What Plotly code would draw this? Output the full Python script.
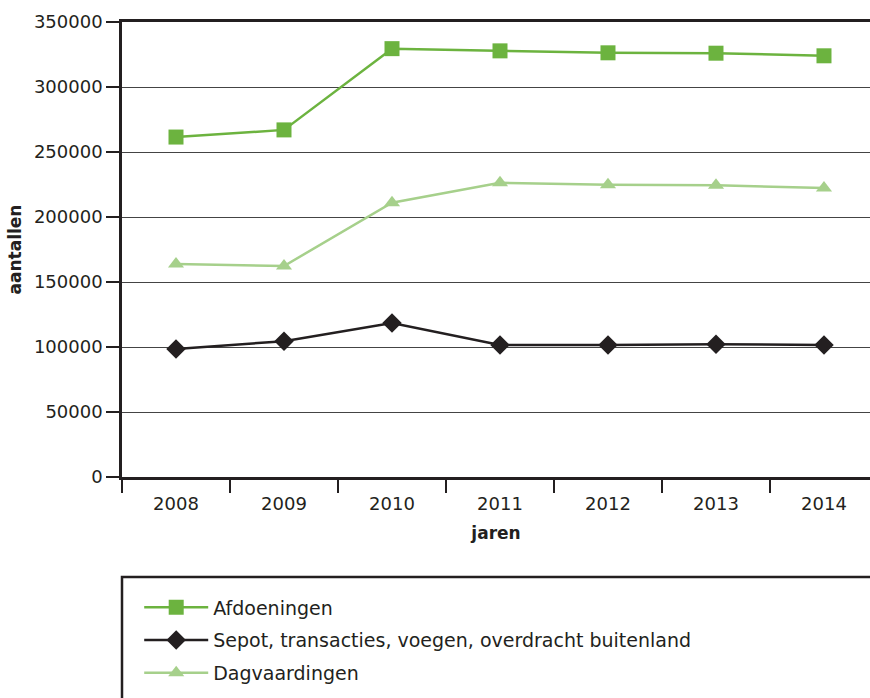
import plotly.graph_objects as go

years = ["2008", "2009", "2010", "2011", "2012", "2013", "2014"]
afdoeningen = [261500, 267000, 329500, 327800, 326300, 326000, 324000]
sepot = [98500, 104500, 118500, 101500, 101600, 102200, 101500]
dagvaardingen = [163800, 162300, 211000, 226300, 224800, 224400, 222300]
y_ticks = [0, 50000, 100000, 150000, 200000, 250000, 300000, 350000]

FONT = "DejaVu Sans, Verdana, sans-serif"
DARK = "#231f20"

fig = go.Figure()
fig.add_trace(go.Scatter(
    x=years, y=afdoeningen, name="Afdoeningen", mode="lines+markers",
    line=dict(color="#6cb33f", width=2.5),
    marker=dict(symbol="square", size=15, color="#6cb33f"),
    legendgroup="a"))
fig.add_trace(go.Scatter(
    x=years, y=sepot, name="Sepot, transacties, voegen, overdracht buitenland",
    mode="lines+markers",
    line=dict(color=DARK, width=2.5),
    marker=dict(symbol="diamond", size=15, color=DARK),
    legendgroup="b"))
fig.add_trace(go.Scatter(
    x=years, y=dagvaardingen, name="Dagvaardingen", mode="lines+markers",
    line=dict(color="#a6d08b", width=2.5),
    marker=dict(symbol="triangle-up", size=14, color="#a6d08b"),
    legendgroup="c"))

fig.update_layout(
    width=870, height=698,
    margin=dict(l=122, r=0, t=22, b=221),
    plot_bgcolor="white", paper_bgcolor="white",
    font=dict(family=FONT, size=18, color=DARK),
    showlegend=True,
    legend=dict(
        x=0.023, y=-0.245, xanchor="left", yanchor="top",
        bgcolor="rgba(0,0,0,0)", borderwidth=0,
        tracegroupgap=5, itemwidth=64,
        font=dict(family=FONT, size=19, color=DARK),
    ),
    shapes=[dict(type="rect", xref="paper", yref="paper",
                 x0=0, x1=1.05, y0=-0.22, y1=-0.52,
                 line=dict(color=DARK, width=2.5),
                 fillcolor="rgba(0,0,0,0)", layer="above")],
)

fig.update_xaxes(
    type="category", range=[-0.5, 6.426],
    showline=True, linecolor=DARK, linewidth=2.5, mirror=True,
    ticks="outside", tickson="boundaries", ticklen=13, tickwidth=1.5,
    tickcolor=DARK, showgrid=False, ticklabelstandoff=9,
    title=dict(text="<b>jaren</b>", font=dict(size=17), standoff=14),
    tickfont=dict(size=18),
)
fig.update_yaxes(
    range=[0, 350000], tickvals=y_ticks,
    ticktext=[str(v) for v in y_ticks],
    showline=True, linecolor=DARK, linewidth=2.5,
    ticks="outside", ticklen=13, tickwidth=1.5, tickcolor=DARK,
    showgrid=True, gridcolor="#444444", gridwidth=1.2,
    zeroline=False,
    title=dict(text="<b>aantallen</b>", font=dict(size=17), standoff=8),
    tickfont=dict(size=18),
)

fig.write_html("out.html", config={"displayModeBar": False},
               post_script="document.body.style.margin='0px';")
